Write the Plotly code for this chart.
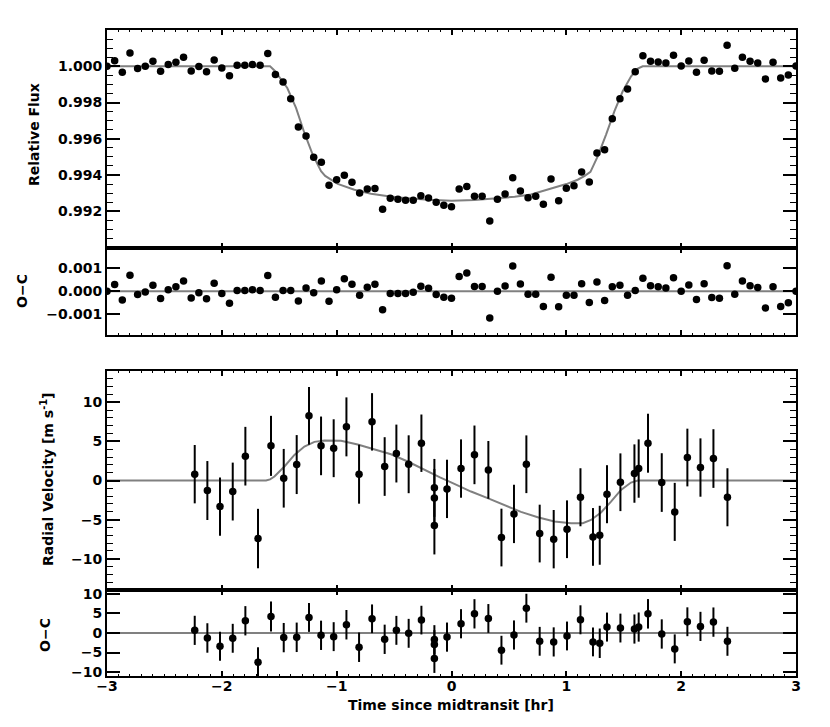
import plotly.graph_objects as go

# ---------------- data ----------------
lc_time = [-3.0, -2.9333, -2.8667, -2.8, -2.7333, -2.6667, -2.6, -2.5333, -2.4667, -2.4,
           -2.3333, -2.2667, -2.2, -2.1333, -2.0667, -2.0, -1.9333, -1.8667, -1.8, -1.7333,
           -1.6667, -1.6, -1.5333, -1.4667, -1.4, -1.3333, -1.2667, -1.2, -1.1333, -1.0667,
           -1.0, -0.9333, -0.8667, -0.8, -0.7333, -0.6667, -0.6, -0.5333, -0.4667, -0.4,
           -0.3333, -0.2667, -0.2, -0.1333, -0.0667, 0.0, 0.0667, 0.1333, 0.2, 0.2667,
           0.3333, 0.4, 0.4667, 0.5333, 0.6, 0.6667, 0.7333, 0.8, 0.8667, 0.9333,
           1.0, 1.0667, 1.1333, 1.2, 1.2667, 1.3333, 1.4, 1.4667, 1.5333, 1.6,
           1.6667, 1.7333, 1.8, 1.8667, 1.9333, 2.0, 2.0667, 2.1333, 2.2, 2.2667,
           2.3333, 2.4, 2.4667, 2.5333, 2.6, 2.6667, 2.7333, 2.8, 2.8667, 2.9333, 3.0]

lc_flux = [1.00000, 1.00031, 0.99967, 1.00073, 0.99987, 1.00000, 1.00028, 0.99972, 1.00009, 1.00022,
           1.00050, 0.99974, 0.99998, 0.99969, 1.00035, 0.99991, 0.99948, 1.00005, 1.00005, 1.00009,
           1.00005, 1.00070, 0.99954, 0.99913, 0.99821, 0.99665, 0.99615, 0.99498, 0.99470, 0.99343,
           0.99374, 0.99399, 0.99360, 0.99301, 0.99323, 0.99325, 0.99211, 0.99272, 0.99266, 0.99261,
           0.99261, 0.99286, 0.99273, 0.99250, 0.99233, 0.99225, 0.99323, 0.99336, 0.99283, 0.99283,
           0.99146, 0.99266, 0.99295, 0.99385, 0.99312, 0.99275, 0.99283, 0.99239, 0.99378, 0.99258,
           0.99327, 0.99341, 0.99417, 0.99362, 0.99522, 0.99540, 0.99711, 0.99821, 0.99875, 0.99969,
           1.00058, 1.00028, 1.00024, 1.00018, 1.00061, 1.00002, 1.00029, 0.99967, 1.00033, 0.99974,
           0.99972, 1.00116, 0.99989, 1.00050, 1.00028, 1.00018, 0.99930, 1.00022, 0.99935, 0.99952,
           1.00002]

lc_resid = [0.00000, 0.00029, -0.00038, 0.00070, -0.00014, -0.00003, 0.00026, -0.00032, 0.00006, 0.00020,
            0.00045, -0.00029, -0.00006, -0.00033, 0.00035, -0.00010, -0.00052, 0.00003, 0.00003, 0.00007,
            0.00003, 0.00068, -0.00026, 0.00003, 0.00003, -0.00042, 0.00014, -0.00007, 0.00045, -0.00043,
            0.00006, 0.00054, 0.00030, -0.00017, 0.00017, 0.00030, -0.00080, -0.00010, -0.00010, -0.00010,
            -0.00004, 0.00022, 0.00013, -0.00014, -0.00026, -0.00030, 0.00064, 0.00079, 0.00021, 0.00021,
            -0.00116, 0.00000, 0.00023, 0.00110, 0.00031, -0.00013, -0.00013, -0.00066, 0.00061, -0.00067,
            -0.00017, -0.00017, 0.00033, -0.00049, 0.00040, -0.00040, 0.00020, 0.00026, -0.00017, 0.00003,
            0.00056, 0.00024, 0.00020, 0.00014, 0.00059, 0.00000, 0.00027, -0.00036, 0.00033, -0.00027,
            -0.00030, 0.00111, -0.00013, 0.00044, 0.00024, 0.00016, -0.00073, 0.00019, -0.00066, -0.00050,
            0.00000]

lc_model_time = [-3.0, -1.58, -1.54, -1.50, -1.43, -1.354, -1.281, -1.209, -1.16, -1.136, -1.10,
                 -0.991, -0.846, -0.701, -0.55, -0.41, -0.2, 0.0, 0.2, 0.402, 0.55, 0.692, 0.896,
                 1.0, 1.099, 1.16, 1.21, 1.24, 1.273, 1.346, 1.419, 1.491, 1.564, 1.622, 1.665, 3.0]
lc_model_flux = [1.0, 1.0, 0.99975, 0.99940, 0.99880, 0.99770, 0.99632, 0.99512, 0.99445, 0.99421, 0.99395,
                 0.99351, 0.99319, 0.99297, 0.99283, 0.99273, 0.99263, 0.99258, 0.99262, 0.99270, 0.99280,
                 0.99292, 0.99329, 0.99350, 0.99374, 0.99395, 0.99417, 0.99455, 0.99503, 0.99623, 0.99752,
                 0.99862, 0.99945, 0.99987, 1.0, 1.0]

rv_time = [-2.236, -2.126, -2.016, -1.905, -1.795, -1.685, -1.572, -1.461, -1.348, -1.241,
           -1.136, -1.026, -0.915, -0.805, -0.692, -0.582, -0.480, -0.373, -0.262, -0.149,
           -0.149, -0.149, -0.039, 0.083, 0.200, 0.321, 0.435, 0.544, 0.652, 0.768,
           0.890, 1.006, 1.123, 1.232, 1.291, 1.354, 1.471, 1.593, 1.630, 1.711,
           1.831, 1.944, 2.054, 2.168, 2.281, 2.403]
rv_value = [0.81, -1.28, -3.33, -1.41, 3.11, -7.42, 4.43, 0.29, 2.04, 8.27,
            4.43, 4.13, 6.86, 0.81, 7.50, 1.79, 3.45, 2.08, 4.77, -0.94,
            -2.22, -5.75, -1.07, 1.53, 3.28, 1.36, -7.29, -4.27, 2.08, -6.78,
            -7.50, -6.23, -2.14, -7.21, -7.00, -1.75, -0.22, 0.89, 1.53, 4.77,
            -0.26, -4.01, 2.94, 1.66, 2.81, -2.14]
rv_error = [3.73, 3.77, 3.73, 3.70, 3.75, 3.80, 3.84, 3.75, 3.77, 3.69,
            3.75, 3.70, 3.77, 3.77, 3.67, 3.75, 3.70, 3.70, 3.67, 3.70,
            3.70, 3.70, 3.73, 3.73, 3.75, 3.69, 3.69, 3.73, 3.69, 3.69,
            3.73, 3.69, 3.71, 3.69, 3.77, 3.71, 3.69, 3.73, 3.73, 3.77,
            3.75, 3.71, 3.69, 3.73, 3.75, 3.71]
rv_resid = [0.68, -1.27, -3.38, -1.35, 3.13, -7.45, 4.23, -1.18, -1.10, 3.98,
            -0.59, -0.93, 2.12, -3.64, 3.64, -1.61, 0.68, -0.08, 3.30, -1.69,
            -2.96, -6.51, -1.05, 2.37, 4.91, 3.72, -4.40, -0.51, 6.35, -2.12,
            -2.28, -0.76, 3.38, -2.28, -2.62, 1.52, 1.27, 1.02, 1.52, 4.91,
            -0.25, -4.06, 2.88, 1.69, 2.79, -2.12]

rv_model_time = [-3.0, -1.615, -1.58, -1.542, -1.455, -1.368, -1.281, -1.194, -1.107, -0.962,
                 -0.817, -0.671, -0.527, -0.381, -0.236, -0.10, 0.025, 0.170, 0.315, 0.461,
                 0.605, 0.751, 0.896, 1.041, 1.143, 1.215, 1.302, 1.389, 1.476, 1.563, 1.622, 3.0]
rv_model_value = [0.0, 0.0, 0.15, 0.51, 1.79, 3.27, 4.35, 4.94, 5.11, 5.07,
                  4.60, 4.00, 3.36, 2.43, 1.36, 0.40, -0.43, -1.41, -2.26, -3.12,
                  -4.01, -4.69, -5.24, -5.46, -5.46, -5.04, -4.09, -2.69, -1.20, -0.26, 0.0, 0.0]

x_ticks = [-3, -2, -1, 0, 1, 2, 3]
flux_ticks = [0.992, 0.994, 0.996, 0.998, 1.000]
lc_oc_ticks = [-0.001, 0.0, 0.001]
rv_ticks = [-10, -5, 0, 5, 10]

# ---------------- style ----------------
FONT = "DejaVu Sans"
tickfont = dict(family=FONT, size=14, color="black", weight="bold")
MODEL_COLOR = "#808080"
MS = 7.5

fig = go.Figure()

fig.add_trace(go.Scatter(x=lc_model_time, y=lc_model_flux, mode="lines",
                         line=dict(color=MODEL_COLOR, width=2), xaxis="x", yaxis="y"))
fig.add_trace(go.Scatter(x=lc_time, y=lc_flux, mode="markers",
                         marker=dict(color="black", size=MS), xaxis="x", yaxis="y"))
fig.add_trace(go.Scatter(x=lc_time, y=lc_resid, mode="markers",
                         marker=dict(color="black", size=MS), xaxis="x2", yaxis="y2"))
fig.add_trace(go.Scatter(x=rv_model_time, y=rv_model_value, mode="lines",
                         line=dict(color=MODEL_COLOR, width=2), xaxis="x3", yaxis="y3"))
fig.add_trace(go.Scatter(x=rv_time, y=rv_value, mode="markers",
                         marker=dict(color="black", size=MS),
                         error_y=dict(type="data", array=rv_error, color="black", thickness=2, width=0),
                         xaxis="x3", yaxis="y3"))
fig.add_trace(go.Scatter(x=rv_time, y=rv_resid, mode="markers",
                         marker=dict(color="black", size=MS),
                         error_y=dict(type="data", array=rv_error, color="black", thickness=2, width=0),
                         xaxis="x4", yaxis="y4"))

for xr, yr in (("x2 domain", "y2"), ("x4 domain", "y4")):
    fig.add_shape(type="line", xref=xr, yref=yr, x0=0, x1=1, y0=0, y1=0,
                  line=dict(color=MODEL_COLOR, width=2), layer="below")


def xaxis(anchor, labels):
    return dict(anchor=anchor, domain=[0, 1], range=[-3, 3], showline=True, linecolor="black",
                linewidth=2, mirror="allticks", ticks="inside", ticklen=5, tickwidth=1.5,
                tickcolor="black", tickvals=x_ticks,
                minor=dict(ticks="inside", ticklen=2, tickwidth=1.2, tickcolor="black",
                           tickmode="linear", tick0=-3, dtick=0.1),
                showgrid=False, zeroline=False, showticklabels=labels, tickfont=tickfont,
                ticklabelstandoff=-4)


def yaxis(anchor, domain, rng, vals, fmt, minor_dtick=None, minor_tick0=None):
    d = dict(anchor=anchor, domain=domain, range=rng, showline=True, linecolor="black",
             linewidth=2, mirror="allticks", ticks="inside", ticklen=13, tickwidth=1.5,
             tickcolor="black", tickvals=vals, tickformat=fmt, showgrid=False, zeroline=False,
             tickfont=tickfont, ticklabelstandoff=0)
    if minor_dtick:
        d["minor"] = dict(ticks="inside", ticklen=6, tickwidth=1.2, tickcolor="black",
                          tickmode="linear", tick0=minor_tick0, dtick=minor_dtick)
    return d


fig.update_layout(
    width=830, height=727,
    margin=dict(l=99, r=42, t=22, b=59),
    paper_bgcolor="white", plot_bgcolor="white",
    showlegend=False,
    xaxis=xaxis("y", False),
    xaxis2=xaxis("y2", False),
    xaxis3=xaxis("y3", False),
    xaxis4=xaxis("y4", True),
    yaxis=yaxis("x", [0.6633, 1.0], [0.990, 1.002], flux_ticks, ".3f", 0.0005, 0.990),
    yaxis2=yaxis("x2", [0.5279, 0.6633], [-0.0019, 0.0019], lc_oc_ticks, ".3f"),
    yaxis3=yaxis("x3", [0.1331, 0.4721], [-14, 14], rv_ticks, "d", 1, -14),
    yaxis4=yaxis("x4", [0.0, 0.1331], [-11, 11], rv_ticks, "d"),
)

title_font = dict(family=FONT, size=14, color="black", weight="bold")
PW, PH = 689.0, 646.0


def px_to_paper(px, py):
    return (px - 99) / PW, (668 - py) / PH


annots = [
    ("Relative Flux", 26, 127, -90),
    ("O\u2212C", 14, 283, -90),
    ("Radial Velocity [m s<sup>-1</sup>]", 39, 472, -90),
    ("O\u2212C", 37, 627, -90),
    ("Time since midtransit [hr]", 443, 697, 0),
]
for text, px, py, ang in annots:
    ax, ay = px_to_paper(px, py)
    fig.add_annotation(text=text, x=ax, y=ay, xref="paper", yref="paper",
                       showarrow=False, textangle=ang, font=title_font,
                       xanchor="center", yanchor="middle")

fig.write_html("out.html")
